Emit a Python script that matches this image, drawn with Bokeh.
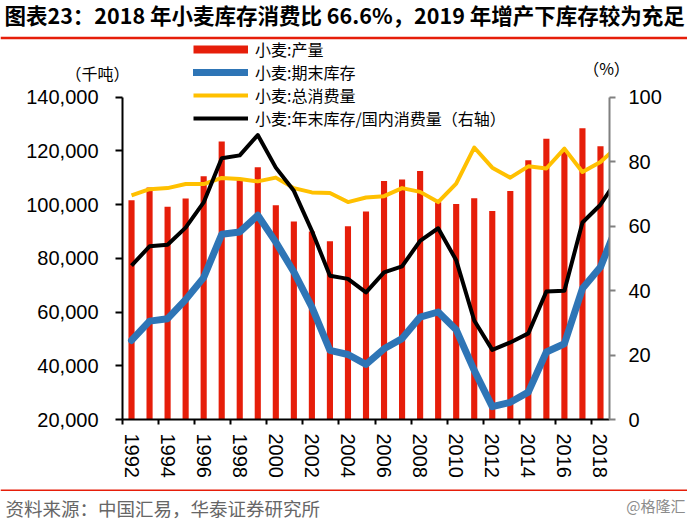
from bokeh.plotting import figure
from bokeh.models import (Range1d, LinearAxis, FixedTicker, NumeralTickFormatter,
                          Legend, LegendItem, Label, Span)
from bokeh.embed import file_html
from bokeh.resources import INLINE

# ---- data ----
years = list(range(1992, 2019))
line_years = list(range(1992, 2020))
production = [101600, 106300, 99200, 102200, 110500, 123400, 109000, 113900, 99700,
              93700, 90000, 86300, 91900, 97400, 108700, 109300, 112500, 100800,
              100200, 102300, 97600, 105000, 116500, 124500, 120000, 128400, 121700]
ending_stock = [49400, 56600, 57500, 64600, 72800, 88900, 89800, 96000, 86000, 74900,
                61800, 45700, 44200, 40500, 46300, 50100, 58100, 60000, 53400, 38300,
                24800, 26400, 30200, 45100, 48200, 68700, 76700, 93500]
consumption = [103400, 105700, 106100, 107600, 107600, 109900, 109500, 108600, 110000,
               106100, 104500, 104300, 100900, 102600, 103100, 106100, 104700, 100900,
               107800, 121200, 113700, 110000, 114200, 113400, 120800, 112100, 115800,
               121900]
ratio = [47.7, 53.7, 54.2, 59.5, 67.3, 81.0, 81.9, 88.2, 78.1, 70.9, 58.5, 44.6, 43.6,
         39.4, 45.6, 47.5, 55.4, 59.3, 49.4, 30.7, 21.6, 23.9, 26.7, 39.7, 39.9, 61.1,
         66.6, 75.0]
label_years = list(range(1992, 2019, 2))
left_ticks = [20000, 40000, 60000, 80000, 100000, 120000, 140000]
right_ticks = [0, 20, 40, 60, 80, 100]

title_text = "图表23：2018 年小麦库存消费比 66.6%，2019 年增产下库存较为充足"
source_text = "资料来源：中国汇易，华泰证券研究所"
legend_labels = ["小麦:产量", "小麦:期末库存", "小麦:总消费量", "小麦:年末库存/国内消费量（右轴）"]

RED = "#E61E0A"
BLUE = "#2E75B6"
YELLOW = "#FFC000"
BLACK = "#000000"
NUM_FONT = "Liberation Sans"
CJK = "Noto Sans CJK SC"

# ---- layout (pixels on the canvas) ----
W, H = 687, 530
PX_L, PX_R = 122.0, 609.0      # plot area left / right
PX_T, PX_B = 96.5, 419.0       # plot area top / bottom
x0, x1 = years[0] - 0.5, years[-1] + 0.5
l0, l1 = left_ticks[0], left_ticks[-1]
r0, r1 = right_ticks[0], right_ticks[-1]

def ext(a, b, p_a, p_b, total):
    per = (b - a) / (p_b - p_a)
    return a - p_a * per, a + (total - p_a) * per

xs, xe = ext(x0, x1, PX_L, PX_R, W)
ys, ye = ext(l0, l1, H - PX_B, H - PX_T, H)
rs, re_ = ext(r0, r1, H - PX_B, H - PX_T, H)

def py(y_px):
    """canvas pixel row (from top) -> left-axis data value"""
    return ys + (H - y_px) * (ye - ys) / H

p = figure(width=W, height=H, output_backend="svg", toolbar_location=None,
           x_range=Range1d(xs, xe), y_range=Range1d(ys, ye),
           min_border=0, min_border_left=0, min_border_right=0,
           min_border_top=0, min_border_bottom=0)
p.outline_line_color = None
p.xgrid.visible = False
p.ygrid.visible = False
p.background_fill_color = "white"
p.border_fill_color = "white"
p.extra_y_ranges = {"pct": Range1d(rs, re_)}

# bars and lines
p.vbar(x=years, top=production, bottom=l0, width=0.34, fill_color=RED, line_color=None)
blue = p.line(line_years, ending_stock, line_color=BLUE, line_width=7, line_join="round", line_cap="round")
yel = p.line(line_years, consumption, line_color=YELLOW, line_width=4, line_join="round")
blk = p.line(line_years, ratio, line_color=BLACK, line_width=4, line_join="round", y_range_name="pct")
# legend key for the bars (a single-point line draws nothing in the plot)
bar_key = p.line([years[-1]], [production[-1]], line_color=RED, line_width=8, line_cap="butt")
# plot-area edge: hide the part of the lines beyond the last category
p.quad(left=[x1], right=[x1 + 2], bottom=[l0], top=[l1], fill_color="white", line_color=None)

# axes
xa = p.xaxis[0]
xa.fixed_location = l0
xa.bounds = (x0, x1)
xa.ticker = FixedTicker(ticks=label_years, minor_ticks=[y - 0.5 for y in label_years])
xa.major_label_orientation = "vertical"
xa.major_tick_out = 0
xa.major_tick_in = 0
xa.minor_tick_out = 5
xa.minor_tick_in = 0
xa.minor_tick_line_color = BLACK
xa.minor_tick_line_width = 2
xa.axis_line_color = BLACK
xa.axis_line_width = 2
xa.major_label_text_font = NUM_FONT
xa.major_label_text_font_size = "20px"
xa.major_label_text_color = BLACK
xa.major_label_standoff = 9

ya = p.yaxis[0]
ya.fixed_location = x0
ya.bounds = (l0, l1)
ya.ticker = FixedTicker(ticks=left_ticks)
ya.formatter = NumeralTickFormatter(format="0,0")
ya.axis_line_color = BLACK
ya.axis_line_width = 2
ya.major_tick_out = 7
ya.major_tick_in = 0
ya.major_tick_line_color = BLACK
ya.major_tick_line_width = 2
ya.minor_tick_out = 0
ya.minor_tick_in = 0
ya.major_label_text_font = NUM_FONT
ya.major_label_text_font_size = "20px"
ya.major_label_text_color = BLACK
ya.major_label_standoff = 17

ra = LinearAxis(y_range_name="pct", ticker=FixedTicker(ticks=right_ticks),
                fixed_location=x1, bounds=(r0, r1))
ra.axis_line_color = "#808080"
ra.axis_line_width = 2
ra.major_tick_out = 6
ra.major_tick_in = 0
ra.major_tick_line_color = "#808080"
ra.major_tick_line_width = 2
ra.minor_tick_out = 0
ra.minor_tick_in = 0
ra.major_label_text_font = NUM_FONT
ra.major_label_text_font_size = "20px"
ra.major_label_text_color = BLACK
ra.major_label_standoff = 13
p.add_layout(ra, "right")

# legend: one single-row legend per entry so that rows sit exactly where they should
row_centers = [48.7, 71.9, 95.1, 118.3]
ROW_H = 16
TXT_H = 23.7   # measured height of a 16px legend row
for lbl, rend, yc in zip(legend_labels, [bar_key, blue, yel, blk], row_centers):
    lg = Legend(items=[LegendItem(label=lbl, renderers=[rend])],
                location=(193, H - yc - TXT_H / 2), orientation="vertical",
                glyph_width=55, glyph_height=ROW_H, label_height=ROW_H, spacing=0,
                label_standoff=7, padding=0, margin=0,
                background_fill_alpha=0, border_line_color=None,
                label_text_font=CJK, label_text_font_size="16px", label_text_color=BLACK)
    p.add_layout(lg, "center")

# texts (screen units from the canvas bottom-left)
def lab(text, x, y, size, color=BLACK, align="left", style="normal", font=CJK):
    p.add_layout(Label(x=x, y=H - y, x_units="screen", y_units="screen", text=text,
                       text_font=font, text_font_size=size, text_color=color,
                       text_align=align, text_baseline="middle", text_font_style=style))

lab(title_text, 4, 13.5, "21.5px", style="bold")
lab("（千吨）", 97, 72, "16px", align="center")
lab("（%）", 606, 67, "16px", align="center")
lab(source_text, 5, 507, "18.5px", color="#666666")
lab("@格隆汇", 685, 505, "15px", color="#8c8c8c", align="right")

# red rules under the title and above the source line
p.add_layout(Span(location=py(37.5), dimension="width", line_color=RED, line_width=2.5))
p.add_layout(Span(location=py(489.8), dimension="width", line_color=RED, line_width=1.5))

open("out.html", "w").write(file_html(p, INLINE))
